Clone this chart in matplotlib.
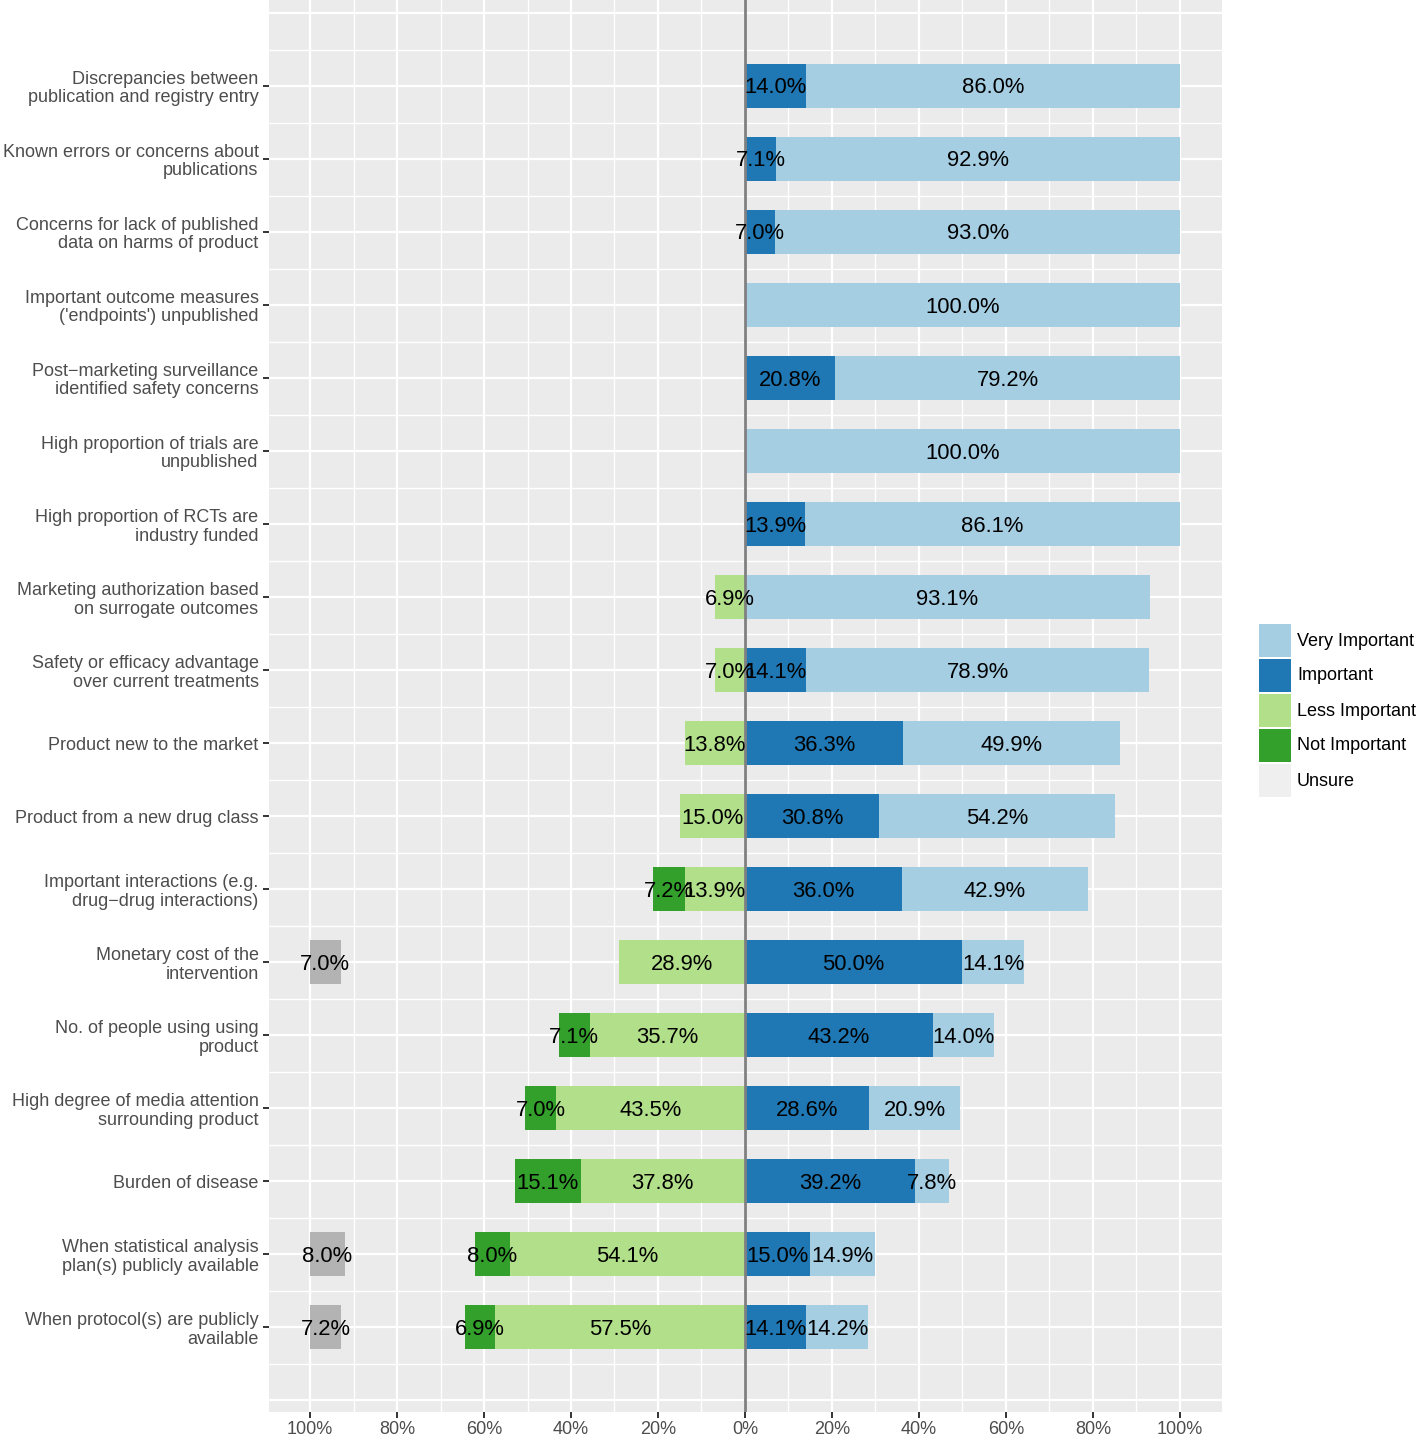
import numpy as np
import matplotlib
matplotlib.use("Agg")
import matplotlib.pyplot as plt
from matplotlib.patches import Rectangle

plt.rcParams['font.family'] = ['Liberation Sans', 'DejaVu Sans']

# --- data (top to bottom) ---
categories = [
    "Discrepancies between\npublication and registry entry",
    "Known errors or concerns about\npublications",
    "Concerns for lack of published\ndata on harms of product",
    "Important outcome measures\n('endpoints') unpublished",
    "Post\u2212marketing surveillance\nidentified safety concerns",
    "High proportion of trials are\nunpublished",
    "High proportion of RCTs are\nindustry funded",
    "Marketing authorization based\non surrogate outcomes",
    "Safety or efficacy advantage\nover current treatments",
    "Product new to the market",
    "Product from a new drug class",
    "Important interactions (e.g.\ndrug\u2212drug interactions)",
    "Monetary cost of the\nintervention",
    "No. of people using using\nproduct",
    "High degree of media attention\nsurrounding product",
    "Burden of disease",
    "When statistical analysis\nplan(s) publicly available",
    "When protocol(s) are publicly\navailable",
]
very_important = [86.0, 92.9, 93.0, 100.0, 79.2, 100.0, 86.1, 93.1, 78.9, 49.9, 54.2, 42.9, 14.1, 14.0, 20.9, 7.8, 14.9, 14.2]
important      = [14.0, 7.1, 7.0, 0, 20.8, 0, 13.9, 0, 14.1, 36.3, 30.8, 36.0, 50.0, 43.2, 28.6, 39.2, 15.0, 14.1]
less_important = [0, 0, 0, 0, 0, 0, 0, 6.9, 7.0, 13.8, 15.0, 13.9, 28.9, 35.7, 43.5, 37.8, 54.1, 57.5]
not_important  = [0, 0, 0, 0, 0, 0, 0, 0, 0, 0, 0, 7.2, 0, 7.1, 7.0, 15.1, 8.0, 6.9]
unsure         = [0, 0, 0, 0, 0, 0, 0, 0, 0, 0, 0, 0, 7.0, 0, 0, 0, 8.0, 7.2]

legend_labels = ["Very Important", "Important", "Less Important", "Not Important", "Unsure"]
xtick_vals = [-100, -80, -60, -40, -20, 0, 20, 40, 60, 80, 100]

c_vi, c_imp, c_less, c_not = "#a6cee3", "#1f78b4", "#b2df8a", "#33a02c"
c_unsure_bar, c_unsure_key = "#b3b3b3", "#efefef"

W, H = 1418, 1436
fig = plt.figure(figsize=(W / 100, H / 100), dpi=100)
ax = fig.add_axes([269 / W, 24 / H, 953 / W, 1412 / H])
ax.set_facecolor("#ebebeb")

n = len(categories)
y = np.arange(n)
bh = 0.6

vi = np.array(very_important)
imp = np.array(important)
less = np.array(less_important)
nimp = np.array(not_important)
uns = np.array(unsure)

# grid
for v in np.arange(-100, 101, 10):
    ax.axvline(v, color="white", lw=1.6 if v % 20 == 0 else 1.0, zorder=0)
for v in np.arange(-1, n + 0.6, 0.5):
    ax.axhline(v, color="white", lw=1.6 if v % 1 == 0 else 1.0, zorder=0)

def seg(left, width, color):
    ax.barh(y, width, left=left, height=bh, color=color, lw=0, zorder=2)

# positive side
seg(0, imp, c_imp)
seg(imp, vi, c_vi)
# negative side
seg(-less, less, c_less)
seg(-less - nimp, nimp, c_not)
seg(-100, uns, c_unsure_bar)

ax.axvline(0, color="#808080", lw=2, zorder=3)

def labels(centers, vals):
    for yi, (cx, v) in enumerate(zip(centers, vals)):
        if v > 0:
            ax.text(cx, yi + 0.025, f"{v:.1f}%", ha="center", va="center",
                    fontsize=15.8, color="black", zorder=4)

labels(imp / 2, imp)
labels(imp + vi / 2, vi)
labels(-less / 2, less)
labels(-less - nimp / 2, nimp)
labels(-100 + uns / 2, uns)

ax.set_xlim(-109.45, 109.7)
ax.set_ylim(18.16, -1.18)
ax.set_yticks(y)
ax.set_yticklabels(categories, fontsize=13, color="#4d4d4d", linespacing=1.1)
ax.set_xticks(xtick_vals)
ax.set_xticklabels([f"{abs(v)}%" for v in xtick_vals], fontsize=13, color="#4d4d4d")
ax.tick_params(axis="both", length=4.5, width=1.4, color="#333333", pad=3)
ax.tick_params(axis="x", pad=2)
for s in ax.spines.values():
    s.set_visible(False)

# legend drawn by hand
lax = fig.add_axes([0, 0, 1, 1], facecolor="none")
lax.set_xlim(0, W)
lax.set_ylim(H, 0)
lax.axis("off")
key_cols = [c_vi, c_imp, c_less, c_not, c_unsure_key]
for i, (lab, col) in enumerate(zip(legend_labels, key_cols)):
    top = 624 + 35 * i
    lax.add_patch(Rectangle((1259, top), 32, 33, color=col, lw=0))
    lax.text(1297, top + 17, lab, ha="left", va="center", fontsize=13, color="black")

fig.savefig("out.png", dpi=100)
